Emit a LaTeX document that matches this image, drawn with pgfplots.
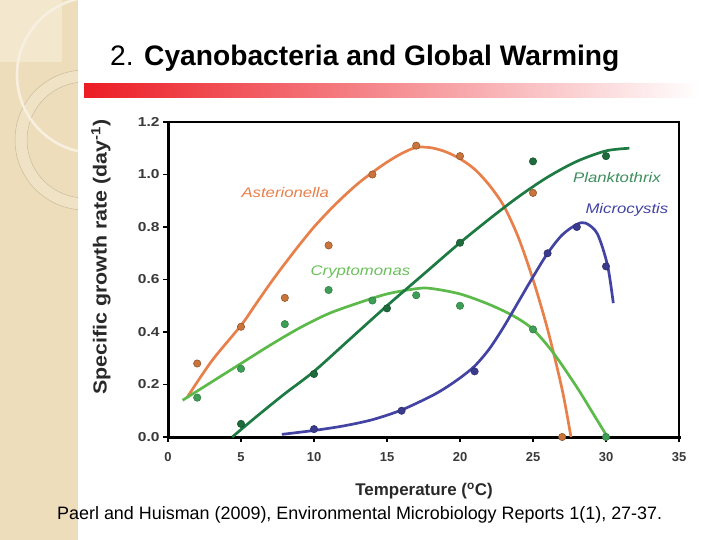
\documentclass[border=0pt]{standalone}
\usepackage{pgfplots}
\pgfplotsset{compat=1.18}
\usepackage{fontspec}
\setmainfont{Liberation Sans}

\definecolor{aster}{HTML}{E8804C}
\definecolor{asterdot}{HTML}{C8743A}
\definecolor{crypto}{HTML}{5CBA4A}
\definecolor{cryptodot}{HTML}{3E9E56}
\definecolor{plank}{HTML}{1C7A42}
\definecolor{plankdot}{HTML}{1E6B3C}
\definecolor{micro}{HTML}{4343A3}
\definecolor{microdot}{HTML}{3A3A8E}
\definecolor{strip}{HTML}{EEDDBB}
\definecolor{barred}{HTML}{EC1C24}
\definecolor{ticktext}{HTML}{3A3A3A}

\begin{document}
\begin{tikzpicture}
\path[use as bounding box] (0,0) rectangle (720bp,-540bp);
\fill[white] (0,0) rectangle (720bp,-540bp);

\begin{scope}[x=1bp,y=-1bp]
  % decorative side strip
  \fill[strip] (0,0) rectangle (78,540);
  \begin{scope}
    \clip (0,0) rectangle (78,540);
    \fill[strip!72!white] (0,0) rectangle (62,62);
    \draw[strip!88!black, line width=0.5] (62,0) arc[start angle=0, end angle=-90, radius=62];
    \fill[strip!85!white, even odd rule] (85,140) circle[radius=70] (85,140) circle[radius=58];
    \draw[strip!85!black, line width=0.5] (85,140) circle[radius=70];
    \draw[strip!85!black, line width=0.5] (85,140) circle[radius=58];
    \draw[strip!45!white, line width=2.6] (95,75) circle[radius=78];
  \end{scope}

  % red title rule
  \shade[left color=barred, middle color=barred!45!white, right color=white]
    (84,83) rectangle (700,97);

  % slide title
  \node[anchor=base west, inner sep=0] at (110,65)
    {\fontsize{28.3}{32}\selectfont 2. \bfseries Cyanobacteria and Global Warming};

  % reference line
  \node[anchor=base west, inner sep=0] at (57,519)
    {\fontsize{18}{21}\selectfont Paerl and Huisman (2009), Environmental Microbiology Reports 1(1), 27-37.};

  % axis titles
  \node[inner sep=0] at (424,491)
    {\fontsize{17}{20}\selectfont\bfseries\color{ticktext!70!black}Temperature (\textsuperscript{o}C)};
  \node[inner sep=0, rotate=90] at (101,257)
    {\scalebox{1.13}[1]{\fontsize{19}{22}\selectfont\bfseries\color{ticktext!70!black}Specific growth rate (day\textsuperscript{-1})}};
\end{scope}

\begin{axis}[
  at={(168bp,-437bp)}, anchor=south west,
  scale only axis, width=511bp, height=315bp,
  xmin=0, xmax=35, ymin=0, ymax=1.2,
  xtick={0,5,10,15,20,25,30,35},
  ytick={0,0.2,0.4,0.6,0.8,1.0,1.2},
  xtick pos=bottom, ytick pos=left,
  tick align=outside,
  major tick length=5bp,
  tick style={line width=1.4bp, black},
  axis line style={line width=2.2bp, black},
  /pgf/number format/assume math mode=true,
  tick label style={font=\bfseries\fontsize{13}{15}\selectfont, text=ticktext},
  yticklabel={\scalebox{1.2}[1]{\pgfmathprintnumber[fixed,fixed zerofill,precision=1]{\tick}}},
  xticklabel={\pgfmathprintnumber{\tick}},
  xticklabel style={yshift=-7bp},
  clip=false,
]
% heavier left and bottom axis lines
\draw[line width=3bp, black, line cap=rect] (rel axis cs:0,1) -- (rel axis cs:0,0) -- (rel axis cs:1,0);

% fitted curves
\addplot[aster, line width=2.7bp, smooth] coordinates {
 (1.3,0.15) (3,0.29) (5,0.425) (6,0.505) (7,0.585) (8,0.66) (9,0.732) (10,0.80)
 (11,0.86) (12,0.915) (13,0.965) (14,1.008) (15,1.047) (16,1.08) (17,1.103) (18,1.102)
 (19,1.087) (20,1.06) (21,1.02) (22,0.96) (23,0.88) (24,0.76) (25,0.60)
 (26,0.41) (27,0.18) (27.6,0.0)};
\addplot[crypto, line width=2.7bp, smooth] coordinates {
 (1,0.14) (3,0.21) (5,0.28) (7,0.35) (9,0.415) (11,0.47) (13,0.51) (15,0.545)
 (17,0.565) (18,0.566) (20,0.545) (22,0.505) (23.7,0.46) (25,0.41)
 (26.4,0.32) (28,0.19) (29,0.10) (30.1,0.0)};
\addplot[plank, line width=2.7bp, smooth] coordinates {
 (4.4,0) (6,0.075) (8,0.165) (10,0.25) (12.5,0.375) (15,0.50) (17.5,0.62)
 (20,0.74) (22,0.83) (24,0.915) (26,0.99) (28,1.05) (30,1.09) (31.6,1.10)};
\addplot[micro, line width=2.7bp, smooth] coordinates {
 (7.8,0.01) (10,0.025) (12,0.042) (14,0.066) (16,0.103) (18,0.155) (19,0.187)
 (20,0.225) (21,0.27) (22,0.335) (23,0.42) (24,0.515) (25,0.61) (26,0.70) (27,0.77)
 (28,0.81) (28.6,0.815) (29.4,0.775) (30.1,0.655) (30.5,0.51)};

% measured rates
\addplot[only marks, mark=*, mark size=3.7bp,
  mark options={fill=asterdot, draw=asterdot!70!black, line width=0.5bp}] coordinates {
 (2,0.28) (5,0.42) (8,0.53) (11,0.73) (14,1.00) (17,1.11) (20,1.07) (25,0.93) (27,0.0)};
\addplot[only marks, mark=*, mark size=3.7bp,
  mark options={fill=cryptodot, draw=cryptodot!75!black, line width=0.5bp}] coordinates {
 (2,0.15) (5,0.26) (8,0.43) (11,0.56) (14,0.52) (17,0.54) (20,0.50) (25,0.41) (30,0.0)};
\addplot[only marks, mark=*, mark size=3.7bp,
  mark options={fill=plankdot, draw=plankdot!75!black, line width=0.5bp}] coordinates {
 (5,0.05) (10,0.24) (15,0.49) (20,0.74) (25,1.05) (30,1.07)};
\addplot[only marks, mark=*, mark size=3.7bp,
  mark options={fill=microdot, draw=microdot!75!black, line width=0.5bp}] coordinates {
 (10,0.03) (16,0.10) (21,0.25) (26,0.70) (28,0.80) (30,0.65)};

% species names
\node[text=aster] at (axis cs:8.03,0.933)
  {\scalebox{1.2}[1]{\fontsize{14}{16}\selectfont\itshape Asterionella}};
\node[text=crypto!90!white] at (axis cs:13.18,0.629)
  {\scalebox{1.2}[1]{\fontsize{14}{16}\selectfont\itshape Cryptomonas}};
\node[text=plank!85!white] at (axis cs:30.75,0.99)
  {\scalebox{1.2}[1]{\fontsize{14}{16}\selectfont\itshape Planktothrix}};
\node[text=micro] at (axis cs:31.43,0.865)
  {\scalebox{1.2}[1]{\fontsize{14}{16}\selectfont\itshape Microcystis}};
\end{axis}
\end{tikzpicture}
\end{document}
